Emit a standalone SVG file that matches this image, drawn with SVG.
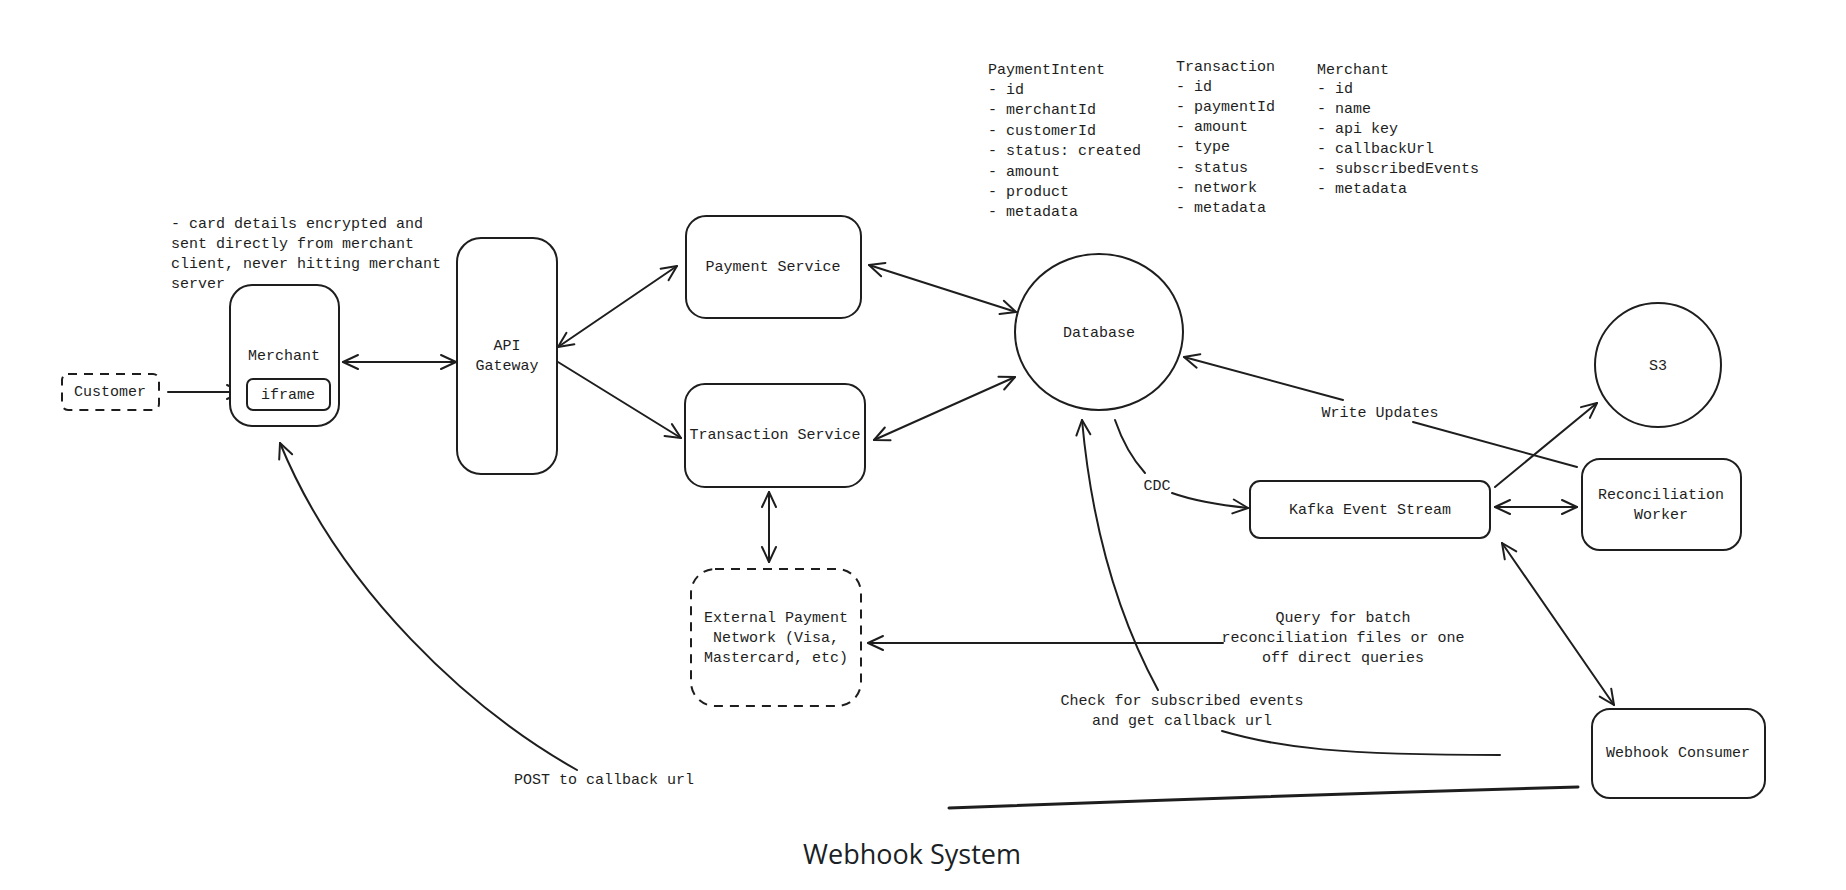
<svg xmlns="http://www.w3.org/2000/svg" width="1846" height="890" viewBox="0 0 1846 890">
<style>
.box{fill:#ffffff;stroke:#1e1e1e;stroke-width:2}
.dash{stroke-dasharray:9 7}
.t{font-family:"Liberation Mono","DejaVu Sans Mono",monospace;font-size:15px;fill:#1e1e1e}
.c{text-anchor:middle}
.ln{fill:none;stroke:#1e1e1e;stroke-width:2;stroke-linecap:round}
.title{font-family:"Open Sans","Noto Sans",sans-serif;font-size:27px;fill:#1b1f26;text-anchor:middle}
</style>
<defs>
<marker id="ah" viewBox="0 0 20 20" refX="18" refY="10" markerWidth="20" markerHeight="20" markerUnits="userSpaceOnUse" orient="auto-start-reverse">
<path d="M3,3 L18,10 L3,17" fill="none" stroke="#1e1e1e" stroke-width="2" stroke-linecap="round" stroke-linejoin="round"/>
</marker>
</defs>
<rect width="1846" height="890" fill="#ffffff"/>

<g id="connectors">
<path class="ln" d="M168,392 L242,392" marker-end="url(#ah)"/>
<path class="ln" d="M343,362 L456,362" marker-start="url(#ah)" marker-end="url(#ah)"/>
<path class="ln" d="M558,347 L677,266" marker-start="url(#ah)" marker-end="url(#ah)"/>
<path class="ln" d="M558,362 L681,438" marker-end="url(#ah)"/>
<path class="ln" d="M869,265 L1016,312" marker-start="url(#ah)" marker-end="url(#ah)"/>
<path class="ln" d="M874,440 L1015,377" marker-start="url(#ah)" marker-end="url(#ah)"/>
<path class="ln" d="M769,492 L769,562" marker-start="url(#ah)" marker-end="url(#ah)"/>
<path class="ln" d="M1115,420 Q1126,452 1145,473"/>
<path class="ln" d="M1172,493 Q1200,503 1248,508" marker-end="url(#ah)"/>
<text class="t c" x="1157" y="490">CDC</text>
<path class="ln" d="M1495,507 L1577,507" marker-start="url(#ah)" marker-end="url(#ah)"/>
<path class="ln" d="M1495,487 L1597,403" marker-end="url(#ah)"/>
<path class="ln" d="M1577,467 L1413,422"/>
<path class="ln" d="M1343,400 L1184,357" marker-end="url(#ah)"/>
<text class="t c" x="1380" y="417">Write Updates</text>
<path class="ln" d="M1502,543 L1614,705" marker-start="url(#ah)" marker-end="url(#ah)"/>
<path class="ln" d="M1223,643 L868,643" marker-end="url(#ah)"/>
<text class="t c" x="1343" y="622">Query for batch</text>
<text class="t c" x="1343" y="642">reconciliation files or one</text>
<text class="t c" x="1343" y="662">off direct queries</text>
<path class="ln" d="M1158,690 C1120,620 1092,530 1082,420" marker-end="url(#ah)"/>
<path class="ln" d="M1222,731 C1280,748 1340,755 1500,755"/>
<text class="t c" x="1182" y="705">Check for subscribed events</text>
<text class="t c" x="1182" y="725">and get callback url</text>
<path class="ln" d="M1578,787 Q1260,796 949,808" style="stroke-width:3"/>
<path class="ln" d="M577,770 C470,710 340,590 280,443" marker-end="url(#ah)"/>
<text class="t c" x="604" y="784">POST to callback url</text>
</g>

<g id="customer">
<rect class="box dash" x="62" y="374" width="97" height="36" rx="6"/>
<text class="t c" x="110" y="396">Customer</text>
</g>

<g id="merchant">
<rect class="box" x="230" y="285" width="109" height="141" rx="22"/>
<text class="t c" x="284" y="360">Merchant</text>
</g>
<g id="iframe">
<rect class="box" x="247" y="379" width="83" height="31" rx="6"/>
<text class="t c" x="288" y="399">iframe</text>
</g>

<g id="note">
<text class="t" x="171" y="228">- card details encrypted and</text>
<text class="t" x="171" y="248">sent directly from merchant</text>
<text class="t" x="171" y="268">client, never hitting merchant</text>
<text class="t" x="171" y="288">server</text>
</g>

<g id="api-gateway">
<rect class="box" x="457" y="238" width="100" height="236" rx="24"/>
<text class="t c" x="507" y="350">API</text>
<text class="t c" x="507" y="370">Gateway</text>
</g>

<g id="payment-service">
<rect class="box" x="686" y="216" width="175" height="102" rx="20"/>
<text class="t c" x="773" y="271">Payment Service</text>
</g>

<g id="transaction-service">
<rect class="box" x="685" y="384" width="180" height="103" rx="20"/>
<text class="t c" x="775" y="439">Transaction Service</text>
</g>

<g id="external-payment-network">
<rect class="box dash" x="691" y="569" width="170" height="137" rx="24"/>
<text class="t c" x="776" y="622">External Payment</text>
<text class="t c" x="776" y="642">Network (Visa,</text>
<text class="t c" x="776" y="662">Mastercard, etc)</text>
</g>

<g id="database">
<ellipse class="box" cx="1099" cy="332" rx="84" ry="78"/>
<text class="t c" x="1099" y="337">Database</text>
</g>

<g id="s3">
<ellipse class="box" cx="1658" cy="365" rx="63" ry="62"/>
<text class="t c" x="1658" y="370">S3</text>
</g>

<g id="kafka-event-stream">
<rect class="box" x="1250" y="481" width="240" height="57" rx="10"/>
<text class="t c" x="1370" y="514">Kafka Event Stream</text>
</g>

<g id="reconciliation-worker">
<rect class="box" x="1582" y="459" width="159" height="91" rx="18"/>
<text class="t c" x="1661" y="499">Reconciliation</text>
<text class="t c" x="1661" y="519">Worker</text>
</g>

<g id="webhook-consumer">
<rect class="box" x="1592" y="709" width="173" height="89" rx="18"/>
<text class="t c" x="1678" y="757">Webhook Consumer</text>
</g>

<g id="schema-paymentintent">
<text class="t" x="988" y="74">PaymentIntent</text>
<text class="t" x="988" y="94">- id</text>
<text class="t" x="988" y="114">- merchantId</text>
<text class="t" x="988" y="135">- customerId</text>
<text class="t" x="988" y="155">- status: created</text>
<text class="t" x="988" y="176">- amount</text>
<text class="t" x="988" y="196">- product</text>
<text class="t" x="988" y="216">- metadata</text>
</g>
<g id="schema-transaction">
<text class="t" x="1176" y="71">Transaction</text>
<text class="t" x="1176" y="91">- id</text>
<text class="t" x="1176" y="111">- paymentId</text>
<text class="t" x="1176" y="131">- amount</text>
<text class="t" x="1176" y="151">- type</text>
<text class="t" x="1176" y="172">- status</text>
<text class="t" x="1176" y="192">- network</text>
<text class="t" x="1176" y="212">- metadata</text>
</g>
<g id="schema-merchant">
<text class="t" x="1317" y="74">Merchant</text>
<text class="t" x="1317" y="93">- id</text>
<text class="t" x="1317" y="113">- name</text>
<text class="t" x="1317" y="133">- api key</text>
<text class="t" x="1317" y="153">- callbackUrl</text>
<text class="t" x="1317" y="173">- subscribedEvents</text>
<text class="t" x="1317" y="193">- metadata</text>
</g>

<text class="title" x="912" y="864">Webhook System</text>
</svg>
